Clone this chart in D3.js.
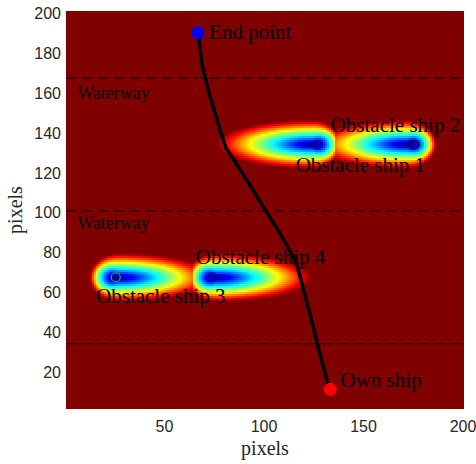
<!DOCTYPE html>
<html>
<head>
<meta charset="utf-8">
<script src="https://cdn.jsdelivr.net/npm/d3@7"></script>
<style>
  html, body { margin: 0; padding: 0; background: #fff; }
  svg { display: block; }
</style>
</head>
<body>
<div id="chart"></div>
<script>
// ---------- data ----------
const xTicks = [50, 100, 150, 200];
const yTicks = [20, 40, 60, 80, 100, 120, 140, 160, 180, 200];

// waterway boundaries (dashed lines)
const laneLines = [33.3, 100, 166.7];

// planned route, from own ship to end point
const pathX = [133, 128, 123, 117.7, 115.6, 108, 99.6, 91.3, 83.8, 80.9, 77.9, 72.9, 68.7, 67];
const pathY = [10, 28.5, 48.6, 68.7, 75.4, 88.8, 102.2, 115.6, 127.3, 131.5, 140.7, 157.4, 174.2, 190];

// own ship and end point
const ownShip = [133.3, 10.4];
const endPoint = [66.8, 189.6];

// obstacle ships
const shipNames   = ["Obstacle ship 1", "Obstacle ship 2", "Obstacle ship 3", "Obstacle ship 4"];
const shipX       = [126.5, 175.5, 25.5, 74];       // marker position
const shipY       = [133.3, 133.3, 66.7, 66.7];
const coreX       = [124, 172, 27, 76];             // risk-field peak
const coreY       = [133.3, 133.3, 66.7, 66.7];
const shipHeading = [1, 1, -1, -1];                 // +1 east, -1 west
const shipMarkerColor = ["#0000b0", "#000000", "#22bb22", "#0000b0"];

// risk-field shape (data units)
const fieldFront = 14.6, fieldBack = 47.7, fieldLat = 12;
const expFront = 2.0, expBack = 1.1, expLat = 1.0;

// text annotations (data coords, left / baseline)
const labelText = ["End point", "Own ship", "Obstacle ship 2", "Obstacle ship 1", "Obstacle ship 4", "Obstacle ship 3"];
const labelX    = [72.4, 138.5, 133.5, 115.9, 65.7, 15.6];
const labelY    = [186.2, 11.4, 139.5, 119.7, 73.4, 53.6];
const laneLabelText = ["Waterway", "Waterway"];
const laneLabelX = [6.2, 6.2];
const laneLabelY = [156.5, 90.9];

const gridN = 200;

// ---------- layout ----------
const W = 476, H = 464;
const plot = { left: 66, right: 464, top: 11, bottom: 409 };

const svg = d3.select("#chart").append("svg").attr("width", W).attr("height", H);

const x = d3.scaleLinear().domain([0.5, gridN + 0.5]).range([plot.left, plot.right]);
const y = d3.scaleLinear().domain([0.5, gridN + 0.5]).range([plot.bottom, plot.top]);

// ---------- risk field ----------
function jet(t) {
  const c = v => Math.max(0, Math.min(1, v));
  return [c(1.5 - Math.abs(4 * t - 3)), c(1.5 - Math.abs(4 * t - 2)), c(1.5 - Math.abs(4 * t - 1))];
}
const field = new Float64Array(gridN * gridN);
for (let j = 1; j <= gridN; j++) {
  for (let i = 1; i <= gridN; i++) {
    let best = Infinity, bestK = 1;
    for (let s = 0; s < shipNames.length; s++) {
      const a = (i - coreX[s]) * shipHeading[s];
      const l = j - coreY[s];
      const na = a / (a > 0 ? fieldFront : fieldBack);
      const nl = l / fieldLat;
      const d = Math.sqrt(na * na + nl * nl);
      if (d < best) {
        const c2 = d > 0 ? (na * na) / (d * d) : 0;
        best = d;
        bestK = expLat + ((a > 0 ? expFront : expBack) - expLat) * c2;
      }
    }
    const v = best >= 1 ? 0 : 1 - Math.pow(best, bestK);
    field[(j - 1) * gridN + (i - 1)] = v;
  }
}

const pw = Math.round(plot.right - plot.left), ph = Math.round(plot.bottom - plot.top);
const canvas = document.createElement("canvas");
canvas.width = pw; canvas.height = ph;
const ctx = canvas.getContext("2d");
const img = ctx.createImageData(pw, ph);
for (let py = 0; py < ph; py++) {
  let cj = Math.round(y.invert(plot.top + py + 0.5));
  cj = Math.max(1, Math.min(gridN, cj));
  for (let px = 0; px < pw; px++) {
    let ci = Math.round(x.invert(plot.left + px + 0.5));
    ci = Math.max(1, Math.min(gridN, ci));
    const v = field[(cj - 1) * gridN + (ci - 1)];
    const col = jet(1 - v);
    const k = (py * pw + px) * 4;
    img.data[k] = Math.round(col[0] * 255);
    img.data[k + 1] = Math.round(col[1] * 255);
    img.data[k + 2] = Math.round(col[2] * 255);
    img.data[k + 3] = 255;
  }
}
ctx.putImageData(img, 0, 0);
svg.append("image")
  .attr("x", x(0.5)).attr("y", y(gridN + 0.5))
  .attr("width", pw).attr("height", ph)
  .attr("preserveAspectRatio", "none")
  .style("image-rendering", "pixelated")
  .attr("href", canvas.toDataURL());

// ---------- lanes ----------
svg.append("g").selectAll("line").data(laneLines).join("line")
  .attr("x1", x(0.5)).attr("x2", x(gridN + 0.5))
  .attr("y1", d => y(d)).attr("y2", d => y(d))
  .attr("stroke", "#000").attr("stroke-width", 1)
  .attr("stroke-dasharray", "10,6");

svg.append("g").selectAll("text").data(laneLabelText).join("text")
  .attr("x", (d, i) => x(laneLabelX[i])).attr("y", (d, i) => y(laneLabelY[i]))
  .attr("font-family", "'Liberation Serif', 'Times New Roman', serif")
  .attr("font-size", 18).attr("fill", "#000")
  .text(d => d);

// ---------- route ----------
const route = pathX.map((v, i) => [v, pathY[i]]);
svg.append("path")
  .attr("d", d3.line().x(d => x(d[0])).y(d => y(d[1]))(route))
  .attr("fill", "none").attr("stroke", "#000").attr("stroke-width", 3.6)
  .attr("stroke-linejoin", "round").attr("stroke-linecap", "round");

// ship markers
svg.append("g").selectAll("circle").data(shipNames).join("circle")
  .attr("cx", (d, i) => x(shipX[i])).attr("cy", (d, i) => y(shipY[i]))
  .attr("r", 4.5).attr("fill", "none")
  .attr("stroke", (d, i) => shipMarkerColor[i]).attr("stroke-width", 1.2);

svg.append("circle").attr("cx", x(ownShip[0])).attr("cy", y(ownShip[1])).attr("r", 6.5).attr("fill", "#ff0000");
svg.append("circle").attr("cx", x(endPoint[0])).attr("cy", y(endPoint[1])).attr("r", 6.5).attr("fill", "#0000ff");

// annotations
svg.append("g").selectAll("text").data(labelText).join("text")
  .attr("x", (d, i) => x(labelX[i])).attr("y", (d, i) => y(labelY[i]))
  .attr("font-family", "'Liberation Serif', 'Times New Roman', serif")
  .attr("font-size", 21).attr("fill", "#000")
  .text(d => d);

// ---------- axes (labels only) ----------
const tickFont = "'Liberation Sans', Arial, Helvetica, sans-serif";
svg.append("g").selectAll("text").data(xTicks).join("text")
  .attr("x", d => x(d)).attr("y", plot.bottom + 22.5)
  .attr("text-anchor", "middle")
  .attr("font-family", tickFont).attr("font-size", 16).attr("fill", "#262626")
  .text(d => d);

svg.append("g").selectAll("text").data(yTicks).join("text")
  .attr("x", plot.left - 5).attr("y", d => y(d) + 7.5)
  .attr("text-anchor", "end")
  .attr("font-family", tickFont).attr("font-size", 16).attr("fill", "#262626")
  .text(d => d);

svg.append("text")
  .attr("x", (plot.left + plot.right) / 2).attr("y", 455)
  .attr("text-anchor", "middle")
  .attr("font-family", "'Liberation Serif', 'Times New Roman', serif")
  .attr("font-size", 20).attr("fill", "#262626")
  .text("pixels");

svg.append("text")
  .attr("transform", `translate(22,${(plot.top + plot.bottom) / 2}) rotate(-90)`)
  .attr("text-anchor", "middle")
  .attr("font-family", "'Liberation Serif', 'Times New Roman', serif")
  .attr("font-size", 20).attr("fill", "#262626")
  .text("pixels");
</script>
</body>
</html>
